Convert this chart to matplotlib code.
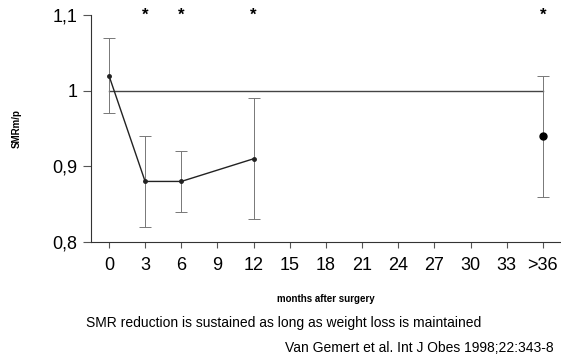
import matplotlib
matplotlib.use('Agg')
import matplotlib.pyplot as plt
import numpy as np

plt.rcParams['font.family'] = ['Liberation Sans', 'DejaVu Sans']

# data
months = ['0', '3', '6', '9', '12', '15', '18', '21', '24', '27', '30', '33', '>36']
pt_labels = ['0', '3', '6', '12', '>36']
smr = [1.02, 0.88, 0.88, 0.91, 0.94]
smr_lo = [0.97, 0.82, 0.84, 0.83, 0.86]
smr_hi = [1.07, 0.94, 0.92, 0.99, 1.02]
star_labels = ['3', '6', '12', '>36']
yticks = [0.8, 0.9, 1.0, 1.1]
ytick_labels = ['0,8', '0,9', '1', '1,1']

xpos = {m: i for i, m in enumerate(months)}
px = np.array([xpos[m] for m in pt_labels])
smr = np.array(smr)
yerr = [smr - np.array(smr_lo), np.array(smr_hi) - smr]

fig = plt.figure(figsize=(5.61, 3.6), dpi=100)
ax = fig.add_axes([0.162, 0.328, 0.838, 0.63])

# reference line at 1
ax.plot([px[0], px[-1]], [1, 1], color='#444444', lw=1.0)
ax.errorbar(px, smr, yerr=yerr, fmt='none', ecolor='#777777', elinewidth=0.7,
            capsize=4, capthick=0.7)
ax.plot(px[:-1], smr[:-1], color='#222222', lw=1.0, marker='o', ms=2.5)
ax.plot(px[-1], smr[-1], 'o', color='black', ms=5)

for s in star_labels:
    ax.text(xpos[s], 1.1, '*', ha='center', va='center', fontsize=12,
            fontweight='bold', clip_on=False)

ax.set_xlim(-0.5, 12.5)
ax.set_ylim(0.8, 1.1)
ax.set_xticks(range(len(months)))
ax.set_xticklabels(months, fontsize=13)
ax.set_yticks(yticks)
ax.set_yticklabels(ytick_labels, fontsize=13)
ax.spines['top'].set_visible(False)
ax.spines['right'].set_visible(False)
ax.spines['left'].set_color('#333333')
ax.spines['bottom'].set_color('#333333')
ax.tick_params(axis='both', color='#555555', width=0.8)
ax.tick_params(axis='y', length=6)
ax.tick_params(axis='x', length=4, pad=7)
ax.set_xlabel('months after surgery', fontsize=7, fontweight='bold', labelpad=14)
ax.set_ylabel('SMRm/p', fontsize=7, fontweight='bold', labelpad=22)

fig.text(0.505, 0.103, 'SMR reduction is sustained as long as weight loss is maintained',
         ha='center', va='center', fontsize=10)
fig.text(0.986, 0.033, 'Van Gemert et al. Int J Obes 1998;22:343-8',
         ha='right', va='center', fontsize=10)

fig.savefig('out.png', dpi=100)
